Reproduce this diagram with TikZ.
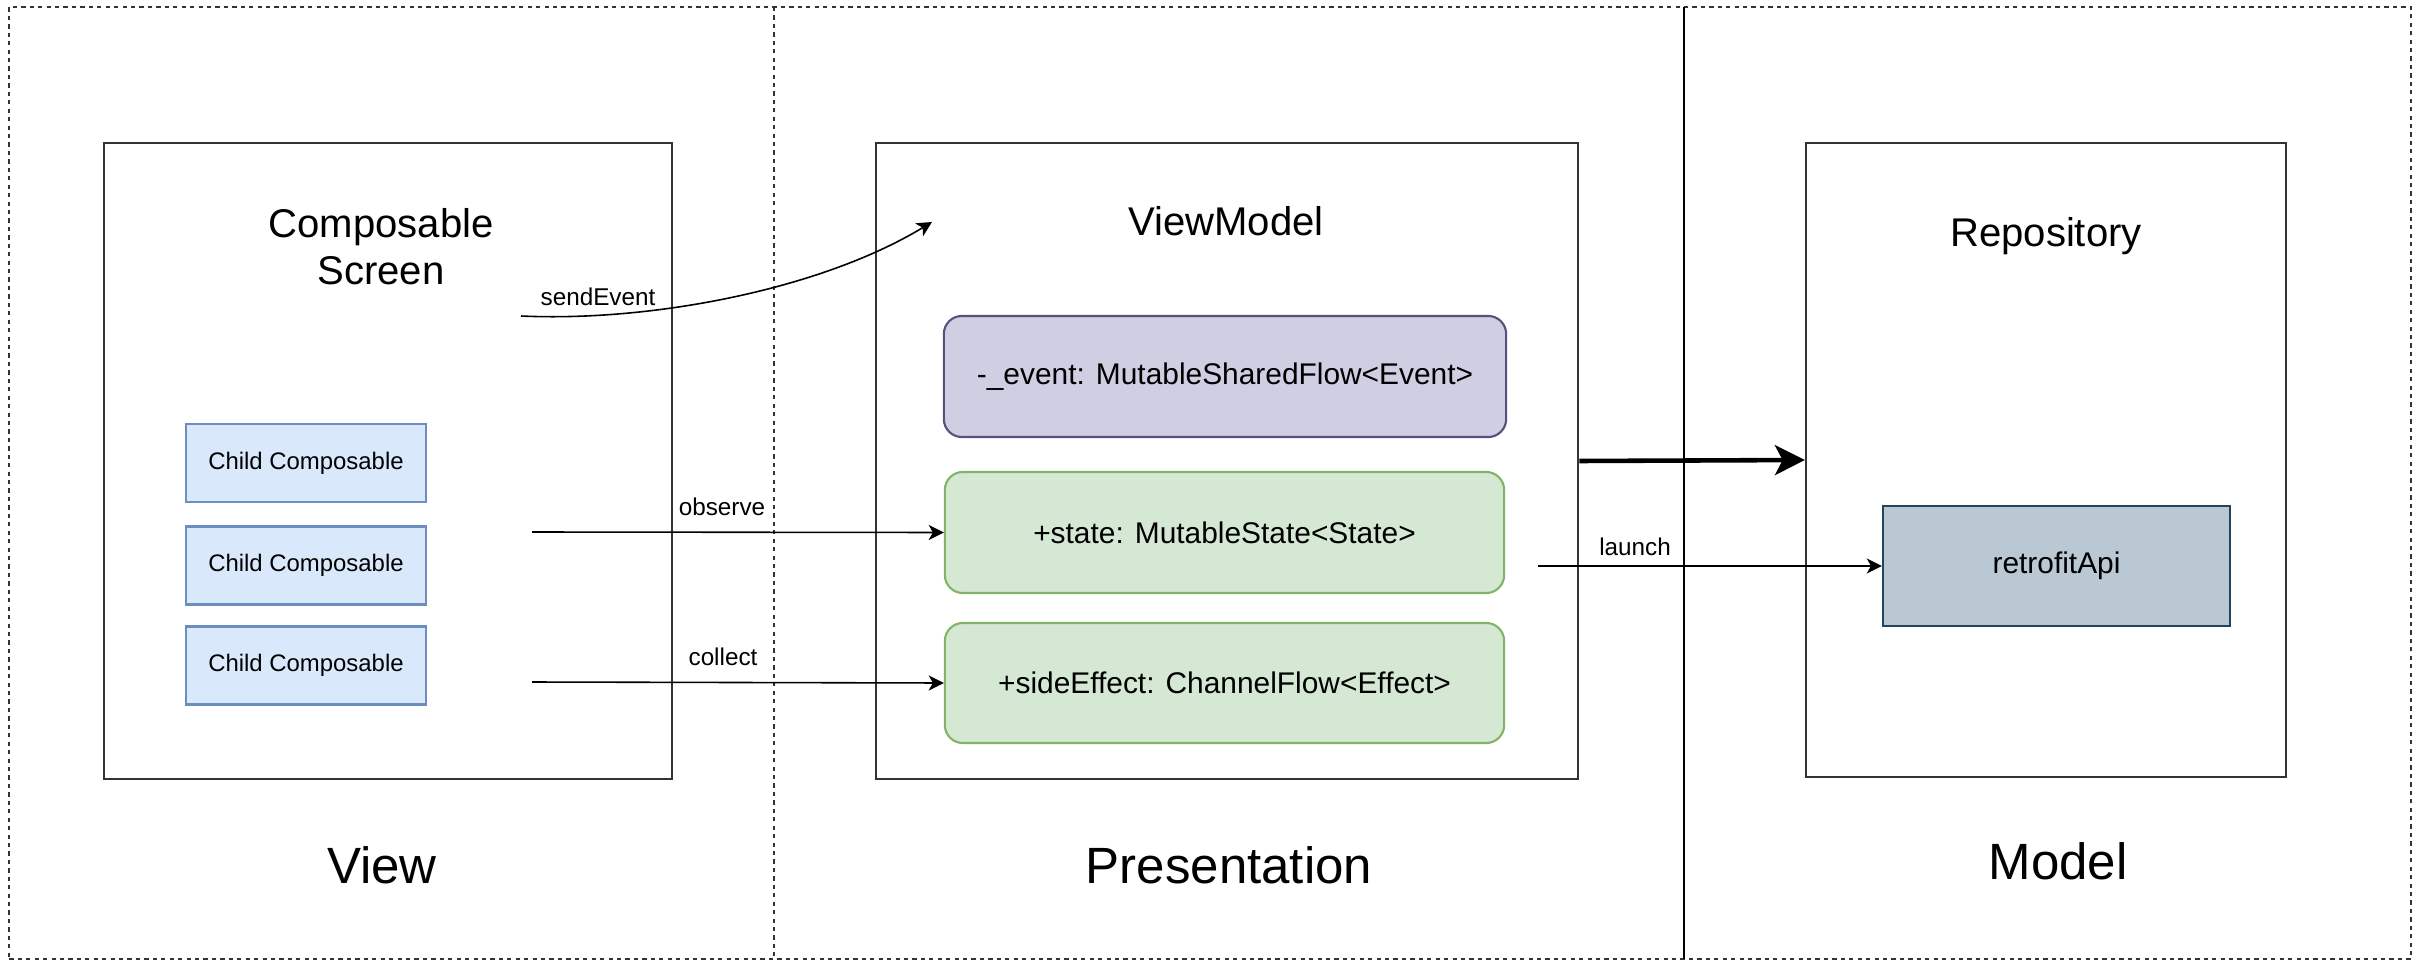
\documentclass[tikz,border=0pt]{standalone}
\usepackage{fontspec}
\setmainfont{Liberation Sans}
\usetikzlibrary{arrows.meta}
\definecolor{gridline}{HTML}{333333}
\definecolor{evfill}{HTML}{D0CEE2}\definecolor{evdraw}{HTML}{56517E}
\definecolor{grfill}{HTML}{D5E8D4}\definecolor{grdraw}{HTML}{82B366}
\definecolor{blfill}{HTML}{DAE8FC}\definecolor{bldraw}{HTML}{6C8EBF}
\definecolor{apifill}{HTML}{BAC8D3}\definecolor{apidraw}{HTML}{23445D}
\tikzset{
  frame/.style={draw=gridline, line width=0.6pt, inner sep=0pt},
  childbox/.style={draw=bldraw, fill=blfill, line width=0.6pt, minimum width=2.40cm, minimum height=0.78cm, inner sep=0pt, font=\fontsize{6.8}{8}\selectfont},
  membox/.style={draw, rounded corners=0.18cm, line width=0.6pt, minimum width=5.60cm, minimum height=1.20cm, inner sep=0pt, font=\fontsize{8.5}{10}\selectfont},
  title/.style={inner sep=0pt, font=\fontsize{11.4}{13.4}\selectfont, align=center},
  layer/.style={inner sep=0pt, font=\fontsize{14.5}{17}\selectfont},
  conlabel/.style={inner sep=0pt, font=\fontsize{6.9}{8}\selectfont},
  conn/.style={draw=black, line width=0.45pt, -{Stealth[length=4.3pt, width=4.3pt, inset=1.2pt]}},
  bigconn/.style={draw=black, line width=1.3pt, -{Stealth[length=8.5pt, width=8.5pt, inset=2.2pt]}},
}
\begin{document}
\begin{tikzpicture}[x=0.01cm, y=-0.01cm]
\useasboundingbox[fill=white] (0,0) rectangle (2425,961);
% outer frame and layer separators
\node[draw=gridline, line width=0.5pt, dash pattern=on 1.2pt off 1.2pt, minimum width=24.00cm, minimum height=9.52cm, inner sep=0pt] (outer) at (1210,483) {};
\coordinate (d1) at (774,7); \coordinate (d2) at (774,959);
\draw[gridline, line width=0.5pt, dash pattern=on 1.2pt off 1.2pt] (d1) -- (d2);
\coordinate (s1) at (1684,7); \coordinate (s2) at (1684,959);
\draw[black, line width=0.6pt] (s1) -- (s2);

% containers
\node[frame, minimum width=5.68cm, minimum height=6.36cm] (cs) at (388,461) {};
\node[frame, minimum width=7.02cm, minimum height=6.36cm] (vm) at (1227,461) {};
\node[frame, minimum width=4.80cm, minimum height=6.34cm] (repo) at (2046,460) {};

% titles
\node[title] (cstitle) at (381,247) {Composable\\Screen};
\node[title] (vmtitle) at (1226,221) {ViewModel};
\node[title] (repotitle) at (2046,236) {Repository};

% children
\node[childbox] (ch1) at (306,463) {Child Composable};
\node[childbox] (ch2) at (306,565.5) {Child Composable};
\node[childbox] (ch3) at (306,665.5) {Child Composable};

% members
\node[membox, draw=evdraw, fill=evfill, minimum width=5.62cm, minimum height=1.21cm] (ev) at (1225,376.5) {-\_event: MutableSharedFlow<Event>};
\node[membox, draw=grdraw, fill=grfill, minimum width=5.59cm, minimum height=1.21cm] (st) at (1224.5,532.5) {+state: MutableState<State>};
\node[membox, draw=grdraw, fill=grfill, minimum width=5.59cm, minimum height=1.20cm] (se) at (1224.5,683) {+sideEffect: ChannelFlow<Effect>};

\node[draw=apidraw, fill=apifill, line width=0.6pt, minimum width=3.47cm, minimum height=1.20cm, inner sep=0pt, font=\fontsize{8.5}{10}\selectfont] (api) at (2056.5,566) {retrofitApi};

% layer labels
\node[layer] (lview) at (382,865) {View};
\node[layer] (lpres) at (1229,865) {Presentation};
\node[layer] (lmodel) at (2058,861) {Model};

% connectors
\coordinate (sendstart) at (521,316);
\coordinate (sendend) at (932,222);
\draw[conn] (sendstart) .. controls (650,322) and (820,290) .. (sendend);
\node[conlabel] (lsend) at (598,297) {sendEvent};

\coordinate (obsstart) at (532,532);
\draw[conn] (obsstart) -- (st.west);
\node[conlabel] (lobs) at (722,507) {observe};

\coordinate (colstart) at (532,682);
\draw[conn] (colstart) -- (se.west);
\node[conlabel] (lcol) at (723,657) {collect};

\draw[bigconn] (vm.east) -- (repo.west);

\coordinate (lstart) at (1538,566);
\draw[conn] (lstart) -- (api.west);
\node[conlabel] (llaunch) at (1635,547) {launch};
\end{tikzpicture}
\end{document}
